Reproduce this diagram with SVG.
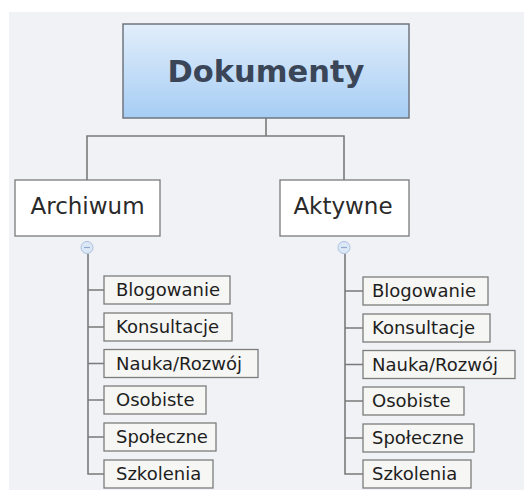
<svg xmlns="http://www.w3.org/2000/svg" width="524" height="497" viewBox="0 0 524 497">
<defs>
<linearGradient id="rootGrad" x1="0" y1="0" x2="0" y2="1">
<stop offset="0" stop-color="#e2eefb"/>
<stop offset="1" stop-color="#a6cdf4"/>
</linearGradient>
<style>
.bg{fill:#f1f2f6}
.root{fill:url(#rootGrad);stroke:#6f7680;stroke-width:1.5}
.rootText{font-family:"DejaVu Sans",sans-serif;font-weight:bold;font-size:30.5px;fill:#3a4658;text-anchor:middle}
.main{fill:#ffffff;stroke:#7a7a7a;stroke-width:1.3}
.mainText{font-family:"DejaVu Sans",sans-serif;font-size:23px;fill:#2a2a2a;text-anchor:middle}
.sub{fill:#f6f6f4;stroke:#7c7c7c;stroke-width:1.3}
.subText{font-family:"DejaVu Sans",sans-serif;font-size:18px;fill:#1e1e1e}
.conn{fill:none;stroke:#7a7a7a;stroke-width:1.6}
.toggle{fill:#dde8f6;stroke:#a9c0df;stroke-width:1}
.minus{stroke:#8fa8cc;stroke-width:1.2}
</style>
</defs>
<rect x="0" y="0" width="524" height="497" fill="#ffffff"/>
<rect class="bg" x="9" y="12" width="515" height="478"/>
<g id="connectors">
<path class="conn" d="M266 118 V136 M87 180 V136 H344 V180"/>
<path class="conn" d="M88 254 V474 H104 M88 290 H104 M88 327 H104 M88 363.5 H104 M88 400 H104 M88 437 H104"/>
<path class="conn" d="M345 254 V474 H363 M345 291 H363 M345 328 H363 M345 364.5 H363 M345 401 H363 M345 438 H363"/>
</g>
<g id="root">
<rect class="root" x="123" y="24" width="286" height="94"/>
<text class="rootText" x="266" y="82">Dokumenty</text>
</g>
<g id="archiwum">
<rect class="main" x="15" y="180" width="145" height="56"/>
<text class="mainText" x="87.5" y="214">Archiwum</text>
<circle class="toggle" cx="87" cy="247.5" r="6"/>
<line class="minus" x1="84" y1="247.5" x2="90" y2="247.5"/>
</g>
<g id="aktywne">
<rect class="main" x="280" y="180" width="129" height="56"/>
<text class="mainText" x="343" y="214">Aktywne</text>
<circle class="toggle" cx="344" cy="247.5" r="6"/>
<line class="minus" x1="341" y1="247.5" x2="347" y2="247.5"/>
</g>
<g id="a-blogowanie"><rect class="sub" x="104" y="276" width="126" height="28"/><text class="subText" x="116" y="296">Blogowanie</text></g>
<g id="a-konsultacje"><rect class="sub" x="104" y="313" width="128" height="28"/><text class="subText" x="116" y="333">Konsultacje</text></g>
<g id="a-nauka"><rect class="sub" x="104" y="349.5" width="154" height="28"/><text class="subText" x="116" y="369.5">Nauka/Rozwój</text></g>
<g id="a-osobiste"><rect class="sub" x="104" y="386" width="102" height="28"/><text class="subText" x="116" y="406">Osobiste</text></g>
<g id="a-spoleczne"><rect class="sub" x="104" y="423" width="112" height="28"/><text class="subText" x="116" y="443">Społeczne</text></g>
<g id="a-szkolenia"><rect class="sub" x="104" y="460" width="109" height="28"/><text class="subText" x="116" y="480">Szkolenia</text></g>
<g id="b-blogowanie"><rect class="sub" x="363" y="277" width="125" height="28"/><text class="subText" x="372" y="297">Blogowanie</text></g>
<g id="b-konsultacje"><rect class="sub" x="363" y="314" width="127" height="28"/><text class="subText" x="372" y="334">Konsultacje</text></g>
<g id="b-nauka"><rect class="sub" x="363" y="350.5" width="152" height="28"/><text class="subText" x="372" y="370.5">Nauka/Rozwój</text></g>
<g id="b-osobiste"><rect class="sub" x="363" y="387" width="101" height="28"/><text class="subText" x="372" y="407">Osobiste</text></g>
<g id="b-spoleczne"><rect class="sub" x="363" y="424" width="111" height="28"/><text class="subText" x="372" y="444">Społeczne</text></g>
<g id="b-szkolenia"><rect class="sub" x="363" y="460" width="108" height="28"/><text class="subText" x="372" y="480">Szkolenia</text></g>
</svg>
